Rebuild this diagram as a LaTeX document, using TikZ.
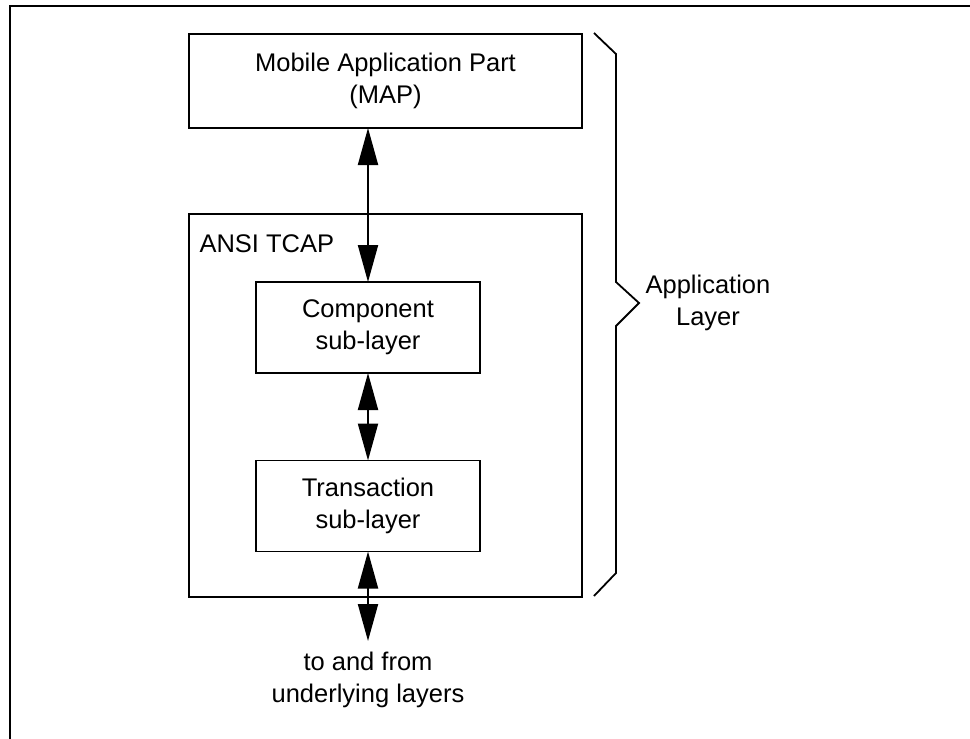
\documentclass[tikz,border=0pt]{standalone}
\usepackage{fontspec}
\setmainfont{Liberation Sans}
\usetikzlibrary{arrows.meta}
\tikzset{
  layerbox/.style={draw, line width=1.6pt, inner sep=0pt, outer sep=0pt, align=center},
  dblarrow/.style={{Triangle[length=37pt,width=20pt]}-{Triangle[length=37pt,width=20pt]}, line width=2pt},
}
\begin{document}
\begin{tikzpicture}[x=1pt,y=-1pt,font=\fontsize{25.5}{32}\selectfont]
\useasboundingbox (0,0) rectangle (970,739);
% outer frame, only top and left edge show
\draw[line width=2.5pt] (10,739) -- (10,6) -- (970,6);

\node[layerbox, minimum width=393pt, minimum height=94pt] (map) at (385.5,81) {Mobile Application Part\\(MAP)};
\node[layerbox, minimum width=393pt, minimum height=383pt] (tcap) at (385.5,405.5) {};
\node[anchor=west] (tcaplbl) at (196,244) {ANSI TCAP};
\node[layerbox, minimum width=224pt, minimum height=91pt] (comp) at (368,327.5) {Component\\sub-layer};
\node[layerbox, minimum width=224pt, minimum height=91pt] (trans) at (368,506) {Transaction\\sub-layer};

% arrows between the layers
\draw[dblarrow] (comp.north |- map.south) -- (comp.north);
\draw[dblarrow] (comp.south) -- (trans.north);
\coordinate (down) at (368,641);
\draw[dblarrow] (trans.south) -- (down);
\node[align=center] (under) at (368,680) {to and from\\underlying layers};

% brace
\draw[line width=1.8pt] (594,33) -- (616,54) -- (616,282) -- (639,303) -- (616,326) -- (616,573) -- (594,596);
\node[align=center] (applayer) at (708,303) {Application\\Layer};
\end{tikzpicture}
\end{document}
